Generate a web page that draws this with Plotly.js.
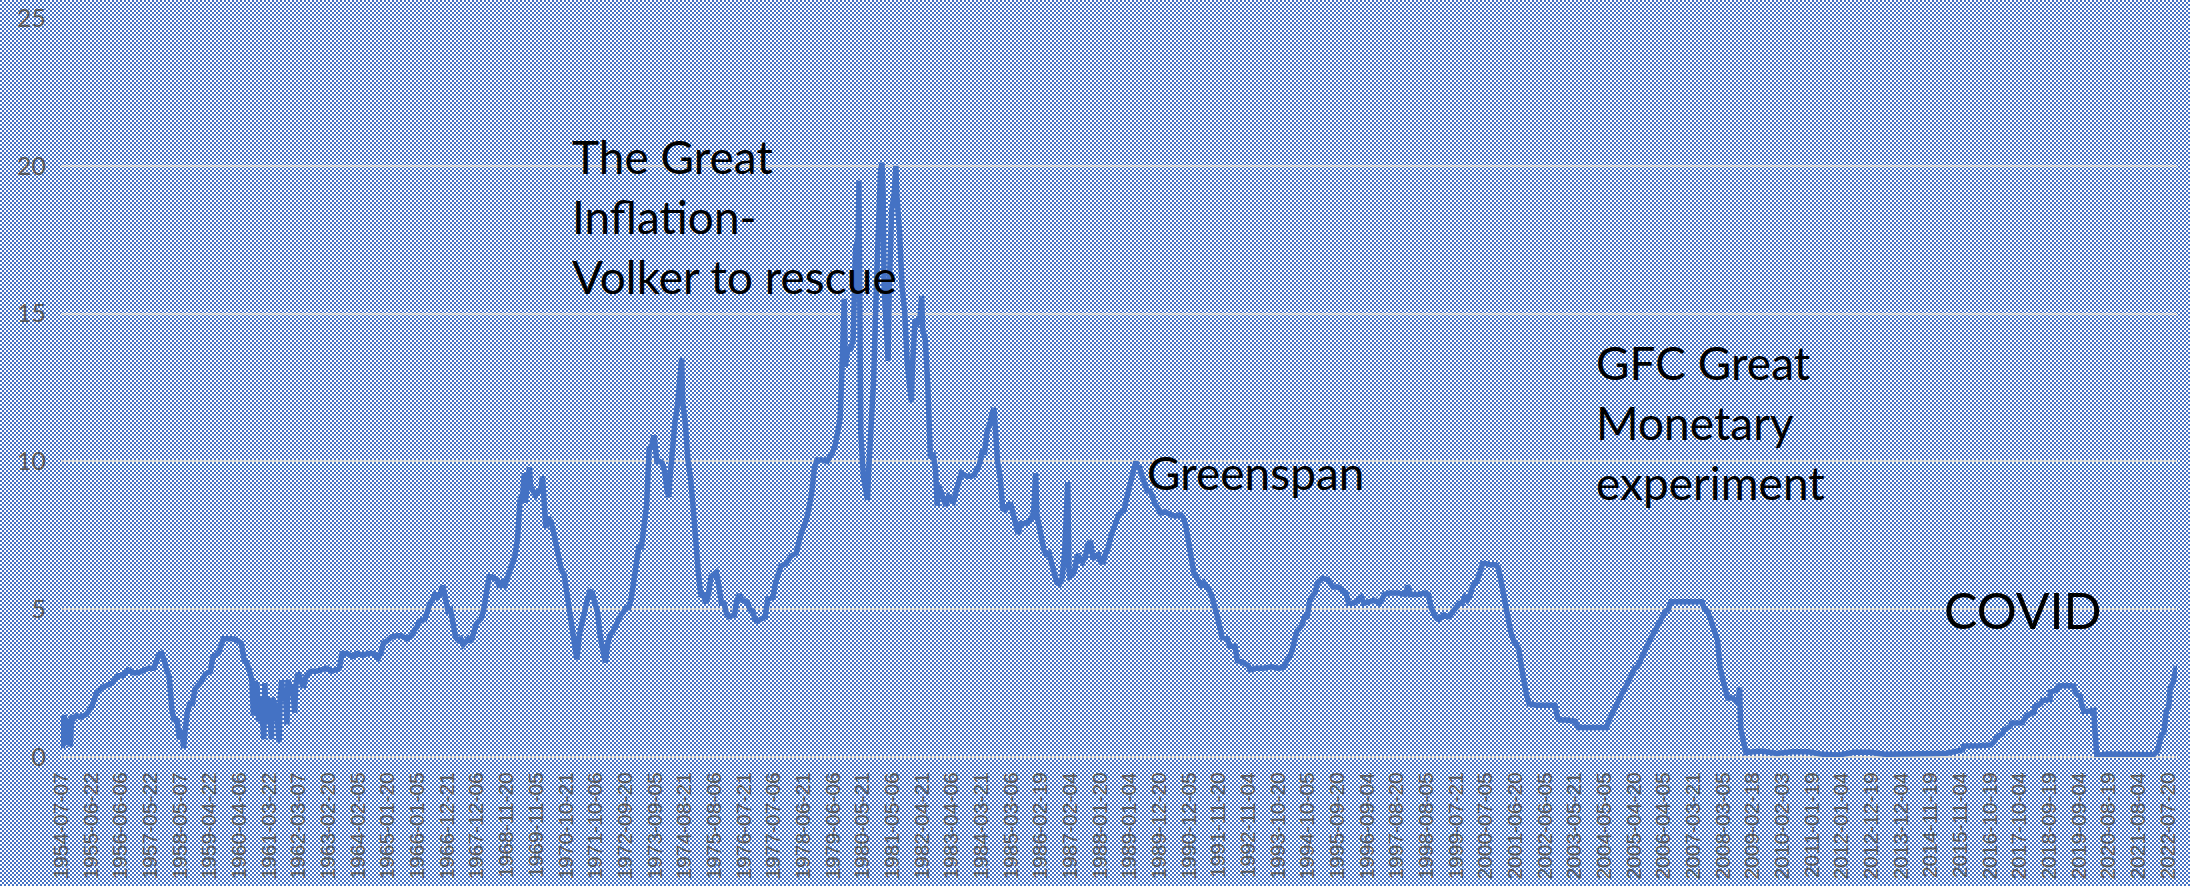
<!DOCTYPE html>
<html>
<head>
<meta charset="utf-8">
<script src="https://cdn.plot.ly/plotly-3.0.1.min.js"></script>
<style>
html, body { margin: 0; padding: 0; }
body {
  width: 2190px; height: 886px; overflow: hidden;
  background-color: #ffffff;
  background-image: url("data:image/svg+xml,%3Csvg xmlns='http://www.w3.org/2000/svg' width='4' height='4' shape-rendering='crispEdges'%3E%3Crect width='4' height='4' fill='%23ffffff'/%3E%3Crect width='2' height='2' fill='%234472C4'/%3E%3Crect x='2' y='2' width='2' height='2' fill='%234472C4'/%3E%3C/svg%3E");
  background-size: 4px 4px;
}
#chart { width: 2190px; height: 886px; }
</style>
</head>
<body>
<div id="chart"></div>
<script>
// Tick labels shown under the x axis (every 50th weekly observation)
const tickLabels = [
  "1954-07-07","1955-06-22","1956-06-06","1957-05-22","1958-05-07","1959-04-22","1960-04-06","1961-03-22",
  "1962-03-07","1963-02-20","1964-02-05","1965-01-20","1966-01-05","1966-12-21","1967-12-06","1968-11-20",
  "1969-11-05","1970-10-21","1971-10-06","1972-09-20","1973-09-05","1974-08-21","1975-08-06","1976-07-21",
  "1977-07-06","1978-06-21","1979-06-06","1980-05-21","1981-05-06","1982-04-21","1983-04-06","1984-03-21",
  "1985-03-06","1986-02-19","1987-02-04","1988-01-20","1989-01-04","1989-12-20","1990-12-05","1991-11-20",
  "1992-11-04","1993-10-20","1994-10-05","1995-09-20","1996-09-04","1997-08-20","1998-08-05","1999-07-21",
  "2000-07-05","2001-06-20","2002-06-05","2003-05-21","2004-05-05","2005-04-20","2006-04-05","2007-03-21",
  "2008-03-05","2009-02-18","2010-02-03","2011-01-19","2012-01-04","2012-12-19","2013-12-04","2014-11-19",
  "2015-11-04","2016-10-19","2017-10-04","2018-09-19","2019-09-04","2020-08-19","2021-08-04","2022-07-20"
];

const dates = [
  "1954-07-07","1954-07-21","1954-08-04","1954-08-25","1954-09-15","1954-10-06","1954-10-21","1954-11-10","1954-12-01",
  "1955-01-01","1955-03-01","1955-05-01","1955-07-01","1955-08-01","1955-09-01","1955-11-01",
  "1956-01-01","1956-03-01","1956-05-01","1956-07-01","1956-09-01","1956-11-01",
  "1957-01-01","1957-03-01","1957-05-01","1957-07-01","1957-09-01","1957-10-01","1957-11-01","1957-12-01",
  "1958-01-01","1958-02-01","1958-03-01","1958-04-01","1958-05-01","1958-06-01","1958-06-20","1958-07-01","1958-08-01","1958-09-01","1958-10-01","1958-11-01","1958-12-01",
  "1959-01-01","1959-03-01","1959-05-01","1959-06-01","1959-08-01","1959-09-01","1959-10-01","1959-12-01",
  "1960-02-01","1960-04-01","1960-05-01","1960-06-01","1960-07-01","1960-08-01","1960-09-01","1960-09-20","1960-10-01","1960-11-01","1960-11-20","1960-12-01",
  "1961-01-01","1961-01-20","1961-02-01","1961-02-20","1961-03-01","1961-04-01","1961-04-20","1961-05-01","1961-06-01","1961-07-01","1961-07-20","1961-08-01","1961-08-20","1961-09-01","1961-10-01","1961-10-20","1961-11-01","1961-12-01",
  "1962-01-01","1962-01-20","1962-02-01","1962-03-01","1962-05-01","1962-06-01","1962-08-01","1962-10-01","1962-12-01",
  "1963-02-01","1963-04-01","1963-06-01","1963-07-01","1963-08-01","1963-10-01","1963-12-01",
  "1964-02-01","1964-04-01","1964-06-01","1964-08-01","1964-10-01","1964-11-01","1964-12-01",
  "1965-01-01","1965-03-01","1965-05-01","1965-07-01","1965-09-01","1965-11-01","1965-12-01",
  "1966-01-01","1966-02-01","1966-04-01","1966-05-01","1966-06-01","1966-07-01","1966-08-01","1966-09-01","1966-10-01","1966-11-01","1966-12-01",
  "1967-01-01","1967-02-01","1967-03-01","1967-04-01","1967-05-01","1967-06-01","1967-07-01","1967-09-01","1967-10-01","1967-11-01","1967-12-01",
  "1968-01-01","1968-02-01","1968-03-01","1968-04-01","1968-05-01","1968-06-01","1968-08-01","1968-09-01","1968-10-01","1968-11-01","1968-12-01",
  "1969-01-01","1969-02-01","1969-03-01","1969-04-01","1969-05-01","1969-06-01","1969-06-20","1969-07-01","1969-08-01","1969-08-20","1969-09-01","1969-10-01","1969-11-01","1969-12-01",
  "1970-01-01","1970-01-20","1970-02-01","1970-03-01","1970-04-01","1970-05-01","1970-06-01","1970-07-01","1970-08-01","1970-09-01","1970-10-01","1970-11-01","1970-12-01",
  "1971-01-01","1971-02-01","1971-03-01","1971-04-01","1971-05-01","1971-06-01","1971-07-01","1971-08-01","1971-09-01","1971-10-01","1971-11-01","1971-12-01",
  "1972-01-01","1972-02-01","1972-03-01","1972-04-01","1972-05-01","1972-06-01","1972-07-01","1972-08-01","1972-09-01","1972-10-01","1972-11-01","1972-12-01",
  "1973-01-01","1973-02-01","1973-03-01","1973-04-01","1973-05-01","1973-06-01","1973-07-01","1973-08-01","1973-08-20","1973-09-01","1973-10-01","1973-11-01","1973-12-01",
  "1974-01-01","1974-02-01","1974-02-20","1974-03-01","1974-04-01","1974-05-01","1974-06-01","1974-07-01","1974-07-20","1974-08-01","1974-09-01","1974-10-01","1974-11-01","1974-12-01",
  "1975-01-01","1975-02-01","1975-03-01","1975-04-01","1975-05-01","1975-06-01","1975-07-01","1975-08-01","1975-09-01","1975-10-01","1975-11-01","1975-12-01",
  "1976-01-01","1976-02-01","1976-04-01","1976-05-01","1976-06-01","1976-07-01","1976-09-01","1976-10-01","1976-11-01","1976-12-01",
  "1977-01-01","1977-03-01","1977-04-01","1977-05-01","1977-07-01","1977-08-01","1977-09-01","1977-10-01","1977-12-01",
  "1978-02-01","1978-04-01","1978-05-01","1978-06-01","1978-07-01","1978-08-01","1978-09-01","1978-10-01","1978-11-01","1978-12-01",
  "1979-02-01","1979-04-01","1979-06-01","1979-07-01","1979-08-01","1979-09-01","1979-10-01","1979-10-20","1979-11-01","1979-12-01",
  "1980-01-01","1980-02-01","1980-03-01","1980-04-01","1980-04-10","1980-05-01","1980-06-01","1980-07-01","1980-07-20","1980-08-01","1980-09-01","1980-10-01","1980-11-01","1980-12-01","1980-12-20",
  "1981-01-07","1981-01-20","1981-02-01","1981-03-01","1981-03-20","1981-04-01","1981-05-01","1981-06-01","1981-06-20","1981-07-01","1981-08-01","1981-09-01","1981-10-01","1981-11-01","1981-12-01","1981-12-20",
  "1982-01-01","1982-02-01","1982-03-01","1982-04-01","1982-04-20","1982-05-01","1982-06-01","1982-07-01","1982-08-01","1982-09-01","1982-10-01","1982-10-20","1982-11-01","1982-12-01",
  "1983-01-01","1983-02-01","1983-03-01","1983-05-01","1983-06-01","1983-07-01","1983-08-01","1983-10-01","1983-12-01",
  "1984-01-01","1984-03-01","1984-04-01","1984-05-01","1984-06-01","1984-07-01","1984-08-01","1984-08-20","1984-09-01","1984-10-01","1984-11-01","1984-12-01",
  "1985-01-01","1985-02-01","1985-03-01","1985-04-01","1985-05-01","1985-06-01","1985-07-01","1985-09-01","1985-11-01","1985-12-01","1985-12-25",
  "1986-01-08","1986-02-01","1986-03-01","1986-04-01","1986-05-01","1986-06-01","1986-07-01","1986-08-01","1986-09-01","1986-10-01","1986-11-01","1986-12-01",
  "1987-01-07","1987-01-21","1987-02-01","1987-03-01","1987-04-01","1987-05-01","1987-06-01","1987-07-01","1987-08-01","1987-09-01","1987-10-01","1987-11-01","1987-12-01",
  "1988-01-01","1988-02-01","1988-03-01","1988-04-01","1988-05-01","1988-06-01","1988-07-01","1988-08-01","1988-09-01","1988-10-01","1988-11-01","1988-12-01",
  "1989-01-01","1989-02-01","1989-03-01","1989-03-20","1989-04-01","1989-05-01","1989-06-01","1989-07-01","1989-08-01","1989-09-01","1989-10-01","1989-11-01","1989-12-01",
  "1990-01-01","1990-03-01","1990-05-01","1990-07-01","1990-09-01","1990-10-01","1990-11-01","1990-12-01",
  "1991-01-01","1991-02-01","1991-03-01","1991-04-01","1991-05-01","1991-06-01","1991-07-01","1991-08-01","1991-09-01","1991-10-01","1991-11-01","1991-12-01",
  "1992-01-01","1992-03-01","1992-04-01","1992-06-01","1992-07-01","1992-09-01","1992-11-01","1992-12-01",
  "1993-02-01","1993-05-01","1993-08-01","1993-11-01",
  "1994-01-01","1994-02-01","1994-03-01","1994-04-01","1994-05-01","1994-06-01","1994-08-01","1994-09-01","1994-10-01","1994-11-01","1994-12-01",
  "1995-01-01","1995-02-01","1995-04-01","1995-06-01","1995-07-01","1995-08-01","1995-10-01","1995-12-01",
  "1996-01-01","1996-02-01","1996-04-01","1996-07-01","1996-08-01","1996-10-01","1996-12-01",
  "1997-02-01","1997-03-01","1997-04-01","1997-06-01","1997-09-01","1997-12-01","1997-12-31",
  "1998-02-01","1998-05-01","1998-08-01","1998-09-01","1998-10-01","1998-11-01","1998-12-01",
  "1999-01-01","1999-03-01","1999-05-01","1999-07-01","1999-08-01","1999-09-01","1999-10-01","1999-11-01","1999-12-01",
  "2000-01-01","2000-02-01","2000-03-01","2000-04-01","2000-05-01","2000-06-01","2000-07-01","2000-09-01","2000-11-01","2000-12-01",
  "2001-01-01","2001-02-01","2001-03-01","2001-04-01","2001-05-01","2001-06-01","2001-07-01","2001-08-01","2001-09-01","2001-10-01","2001-11-01","2001-12-01",
  "2002-03-01","2002-06-01","2002-10-01","2002-11-01","2002-12-01",
  "2003-03-01","2003-06-01","2003-07-01","2003-12-01",
  "2004-06-01","2004-07-01","2004-08-01","2004-09-01","2004-10-01","2004-11-01","2004-12-01",
  "2005-01-01","2005-02-01","2005-03-01","2005-04-01","2005-05-01","2005-06-01","2005-07-01","2005-08-01","2005-09-01","2005-10-01","2005-11-01","2005-12-01",
  "2006-01-01","2006-02-01","2006-03-01","2006-04-01","2006-05-01","2006-06-01","2006-07-01","2006-12-01",
  "2007-07-01","2007-08-01","2007-09-01","2007-10-01","2007-11-01","2007-12-01",
  "2008-01-01","2008-02-01","2008-03-01","2008-04-01","2008-05-01","2008-07-01","2008-09-01","2008-09-17","2008-10-01","2008-11-01","2008-12-01",
  "2009-06-01","2009-12-01","2010-06-01","2010-12-01","2011-06-01","2011-12-01","2012-06-01","2012-12-01",
  "2013-06-01","2013-12-01","2014-06-01","2014-12-01","2015-06-01","2015-12-01","2015-12-17",
  "2016-06-01","2016-11-01","2016-12-15",
  "2017-01-01","2017-03-16","2017-04-01","2017-06-15","2017-07-01","2017-11-01","2017-12-14",
  "2018-01-01","2018-03-22","2018-04-01","2018-06-14","2018-07-01","2018-09-27","2018-10-01","2018-12-20",
  "2019-01-01","2019-04-01","2019-06-01","2019-07-01","2019-08-01","2019-09-19","2019-10-01","2019-10-31",
  "2020-01-01","2020-02-27","2020-03-05","2020-03-16","2020-04-01","2020-08-01","2020-12-01",
  "2021-06-01","2021-12-01","2022-02-01","2022-03-17","2022-04-01","2022-05-05","2022-06-01","2022-06-16","2022-07-01","2022-07-28","2022-08-15","2022-09-22","2022-10-26"
];

// Effective federal funds rate, %
const rates = [
  1.25,0.30,1.40,1.25,0.40,1.30,0.35,1.40,1.30,
  1.40,1.35,1.45,1.70,2.00,2.20,2.35,
  2.45,2.50,2.75,2.75,2.95,2.85,
  2.85,2.95,3.00,3.00,3.45,3.50,3.30,2.95,
  2.70,1.60,1.20,1.30,0.60,0.90,0.30,0.70,1.50,1.80,1.80,2.30,2.40,
  2.50,2.80,2.90,3.40,3.50,3.75,4.00,4.00,
  4.00,3.90,3.85,3.30,3.20,2.95,2.60,1.40,2.50,2.45,1.20,2.00,
  1.45,0.60,2.50,1.10,2.00,1.50,0.60,2.00,1.75,1.20,0.50,2.00,2.60,1.90,2.30,1.10,2.60,2.35,
  2.15,1.50,2.40,2.85,2.35,2.70,2.90,2.90,2.95,
  3.00,2.90,3.00,3.00,3.50,3.50,3.40,
  3.50,3.45,3.50,3.50,3.35,3.50,3.85,
  3.90,4.05,4.10,4.10,4.00,4.10,4.30,
  4.40,4.60,4.65,4.90,5.20,5.30,5.50,5.40,5.50,5.80,5.40,
  4.95,5.00,4.50,4.05,3.95,4.00,3.80,4.00,3.90,4.15,4.50,
  4.60,4.70,5.05,5.75,6.10,6.10,6.00,5.75,5.90,5.80,6.05,
  6.30,6.60,6.80,7.40,8.70,8.90,9.60,8.60,9.20,9.80,9.15,9.00,8.85,9.00,
  9.00,9.50,8.95,7.75,8.10,7.95,7.60,7.20,6.60,6.30,6.20,5.60,4.90,
  4.15,3.70,3.30,4.15,4.60,4.90,5.30,5.60,5.55,5.20,4.90,4.10,
  3.50,3.20,3.85,4.15,4.25,4.45,4.55,4.80,4.90,5.05,5.05,5.35,
  5.95,6.60,7.10,7.10,7.85,8.50,10.40,10.50,10.80,10.80,10.00,10.00,9.95,
  9.65,8.95,8.80,9.35,10.50,11.30,11.90,12.90,13.50,12.00,11.30,10.05,9.45,8.50,
  7.10,6.25,5.50,5.50,5.20,5.50,6.10,6.15,6.25,5.80,5.20,5.20,
  4.85,4.75,4.80,5.30,5.50,5.30,5.25,5.00,4.95,4.65,
  4.60,4.70,4.75,5.35,5.40,5.90,6.15,6.45,6.55,
  6.80,6.90,7.35,7.60,7.80,8.05,8.45,8.95,9.75,10.05,
  10.05,10.00,10.30,10.50,10.95,11.45,13.80,15.50,13.20,13.80,
  13.80,14.10,17.20,17.60,19.50,11.00,9.50,9.00,8.70,9.60,10.90,12.80,15.85,18.90,19.80,
  20.10,19.10,15.90,14.70,13.40,15.70,18.50,19.10,20.00,19.00,17.80,15.90,15.10,13.30,12.40,12.00,
  13.20,14.80,14.70,14.90,15.60,14.45,14.15,12.60,10.10,10.30,9.70,8.50,9.20,8.95,
  8.70,8.50,8.80,8.65,9.00,9.40,9.60,9.50,9.50,
  9.55,9.90,10.30,10.30,11.05,11.25,11.65,11.80,11.30,10.00,9.45,8.40,
  8.35,8.50,8.60,8.25,7.95,7.55,7.90,7.90,8.05,8.30,9.60,
  8.15,7.85,7.50,7.00,6.85,6.90,6.55,6.15,5.90,5.85,6.05,6.90,
  9.30,6.40,6.10,6.15,6.35,6.85,6.75,6.60,6.75,7.20,7.30,6.70,6.80,
  6.85,6.60,6.60,6.90,7.10,7.50,7.75,8.00,8.20,8.30,8.35,8.75,
  9.10,9.35,9.85,10.00,9.85,9.80,9.50,9.25,9.00,9.00,8.85,8.55,8.45,
  8.25,8.30,8.20,8.15,8.20,8.10,7.80,7.30,
  6.90,6.25,6.10,5.90,5.80,5.90,5.80,5.65,5.45,5.20,4.80,4.45,
  4.05,4.00,3.75,3.75,3.25,3.20,3.10,2.95,
  3.00,3.00,3.05,3.00,
  3.05,3.25,3.35,3.55,4.00,4.25,4.45,4.75,4.75,5.30,5.45,
  5.55,5.90,6.05,6.00,5.85,5.75,5.75,5.60,
  5.55,5.20,5.20,5.40,5.20,5.25,5.30,
  5.20,5.40,5.50,5.55,5.55,5.50,5.80,
  5.50,5.50,5.55,5.50,5.05,4.85,4.70,
  4.65,4.80,4.75,5.00,5.05,5.20,5.20,5.40,5.30,
  5.45,5.75,5.85,6.00,6.25,6.55,6.55,6.50,6.50,6.40,
  6.00,5.50,5.30,4.80,4.20,3.95,3.75,3.65,3.05,2.50,2.10,1.80,
  1.75,1.75,1.75,1.35,1.25,
  1.25,1.20,1.00,1.00,
  1.00,1.25,1.45,1.60,1.75,1.95,2.15,
  2.30,2.50,2.65,2.80,3.00,3.05,3.25,3.50,3.60,3.80,4.00,4.15,
  4.30,4.50,4.60,4.80,4.95,5.00,5.25,5.25,
  5.25,5.00,4.95,4.75,4.50,4.25,
  3.95,3.00,2.60,2.30,2.00,2.00,1.80,2.35,0.95,0.40,0.15,
  0.20,0.12,0.18,0.18,0.09,0.07,0.16,0.16,
  0.09,0.09,0.10,0.12,0.13,0.24,0.37,
  0.38,0.41,0.54,
  0.65,0.79,0.90,1.04,1.15,1.16,1.30,
  1.41,1.51,1.69,1.82,1.91,1.95,2.19,2.27,
  2.40,2.42,2.38,2.40,2.13,2.04,1.83,1.55,
  1.55,1.58,1.10,0.25,0.05,0.10,0.09,
  0.08,0.08,0.08,0.20,0.33,0.77,0.83,1.21,1.58,1.68,2.33,2.56,3.08
];

const annTexts = [
  "The Great<br>Inflation-<br>Volker to rescue",
  "Greenspan",
  "GFC Great<br>Monetary<br>experiment",
  "COVID"
];
const annX = ["1970-12-10", "1989-07-10", "2004-01-10", "2015-04-01"];
const annY = [18.3, 9.64, 11.33, 4.97];
const annSize = [46, 46, 46, 50];

const trace = {
  type: "scatter",
  mode: "lines",
  x: dates,
  y: rates,
  line: { color: "#4472C4", width: 5.5 },
  hoverinfo: "x+y"
};

const layout = {
  width: 2190,
  height: 886,
  margin: { l: 61, r: 13, t: 18, b: 129 },
  paper_bgcolor: "rgba(0,0,0,0)",
  plot_bgcolor: "rgba(0,0,0,0)",
  showlegend: false,
  xaxis: {
    type: "date",
    range: ["1954-07-04", "2022-11-03"],
    tickmode: "array",
    tickvals: tickLabels,
    ticktext: tickLabels,
    tickangle: -90,
    tickfont: { family: "Liberation Sans, Arial, sans-serif", size: 21, color: "#595959" },
    ticklabelstandoff: 10,
    showgrid: false,
    zeroline: false,
    showline: false,
    ticks: ""
  },
  yaxis: {
    range: [0, 25],
    tick0: 0,
    dtick: 5,
    tickfont: { family: "Lato, sans-serif", size: 25, color: "#595959" },
    ticklabelstandoff: 14,
    showgrid: true,
    gridcolor: "#d9d9d9",
    gridwidth: 2,
    zeroline: true,
    zerolinecolor: "#d9d9d9",
    zerolinewidth: 2,
    showline: false,
    ticks: ""
  },
  annotations: annTexts.map((t, i) => ({
    text: t,
    x: annX[i],
    y: annY[i],
    xref: "x",
    yref: "y",
    xanchor: "left",
    yanchor: "middle",
    align: "left",
    showarrow: false,
    font: { family: "Lato, sans-serif", size: annSize[i], color: "#000000" }
  }))
};

Plotly.newPlot("chart", [trace], layout, { displayModeBar: false, staticPlot: true });
</script>
</body>
</html>
